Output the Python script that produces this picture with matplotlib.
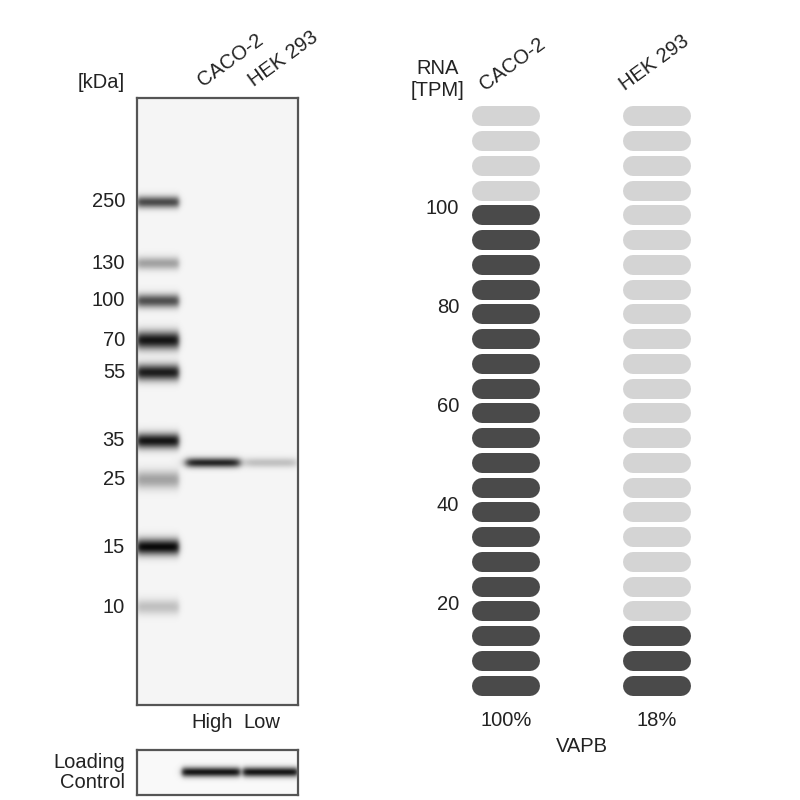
import numpy as np
import matplotlib
matplotlib.use("Agg")
import matplotlib.pyplot as plt

plt.rcParams["font.family"] = ["Liberation Sans", "DejaVu Sans"]

# western blot data (relative mobility down the membrane, 0 = top, 1 = bottom)
marker_kda = ["250", "130", "100", "70", "55", "35", "25", "15", "10"]
marker_mobility = [0.171, 0.272, 0.334, 0.399, 0.452, 0.565, 0.629, 0.740, 0.839]
marker_darkness = [0.72, 0.35, 0.70, 0.95, 0.92, 0.95, 0.35, 1.0, 0.22]
marker_spread = [0.0070, 0.0075, 0.0080, 0.0105, 0.0095, 0.0090, 0.0105, 0.0095, 0.0090]

lanes = ["CACO-2", "HEK 293"]
lane_levels = ["High", "Low"]
target_mobility = 0.601
target_darkness = [0.88, 0.22]
loading_darkness = [0.95, 0.95]

# RNA data
rna_tpm = [101.0, 18.0]
gene = "VAPB"
rna_ticks = [20, 40, 60, 80, 100]
n_pills = 24
tpm_per_pill = 5

W, H = 800, 800
fig = plt.figure(figsize=(8, 8), dpi=100)
txt = "#222222"
FS = 14.5


def rect(x0, y0, x1, y1):
    return [x0 / W, 1 - y1 / H, (x1 - x0) / W, (y1 - y0) / H]


def ftext(x, y, s, **kw):
    kw.setdefault("color", txt)
    kw.setdefault("fontsize", FS)
    fig.text(x / W, 1 - y / H, s, **kw)


def lane_mask(xs, a, b, edge=1.5):
    return 1 / (1 + np.exp(-(xs - a) / edge)) * 1 / (1 + np.exp((xs - b) / edge))


# ---- main blot ----
bx0, by0, bx1, by1 = 137, 98, 298, 705
ax = fig.add_axes(rect(bx0, by0, bx1, by1))
xs = np.arange(bx0, bx1) + 0.5
rows = np.linspace(0, 1, by1 - by0)
R, X = np.meshgrid(rows, xs, indexing="ij")
dens = np.zeros_like(R)
m_lane = lane_mask(X, bx0, 179)
for m, d, s in zip(marker_mobility, marker_darkness, marker_spread):
    dens += d * np.exp(-0.5 * ((R - m) / s) ** 2) * m_lane
sample_x = [(186, 240), (246, 297)]
for (a, b), d in zip(sample_x, target_darkness):
    dens += d * np.exp(-0.5 * ((R - target_mobility) / 0.0058) ** 2) * lane_mask(X, a, b, 2.5)
img = 0.96 - 0.92 * np.clip(dens, 0, 1)
ax.imshow(img, cmap="gray", vmin=0, vmax=1, extent=(bx0, bx1, by1, by0),
          aspect="auto", interpolation="bilinear")
ax.set_xlim(bx0, bx1)
ax.set_ylim(by1, by0)
ax.set_xticks([])
ax.set_yticks([])
for sp in ax.spines.values():
    sp.set_color("#555555")
    sp.set_linewidth(1.6)

ftext(125, 82, "[kDa]", ha="right", va="center")
for k, m in zip(marker_kda, marker_mobility):
    ftext(125, by0 + m * (by1 - by0), k, ha="right", va="center")
for name, x in zip(lanes, [205, 256]):
    ftext(x, 90, name, rotation=36, rotation_mode="anchor", ha="left", va="bottom")
for lev, x in zip(lane_levels, [212, 262]):
    ftext(x, 722, lev, ha="center", va="center")

# ---- loading control ----
lx0, ly0, lx1, ly1 = 137, 750, 298, 795
axl = fig.add_axes(rect(lx0, ly0, lx1, ly1))
rows = np.linspace(0, 1, ly1 - ly0)
R, X = np.meshgrid(rows, xs, indexing="ij")
dens = np.zeros_like(R)
for (a, b), d in zip([(182, 240), (243, 298)], loading_darkness):
    dens += d * np.exp(-0.5 * ((R - 0.49) / 0.08) ** 2) * lane_mask(X, a, b, 1.5)
img = 0.975 - 0.93 * np.clip(dens, 0, 1)
axl.imshow(img, cmap="gray", vmin=0, vmax=1, extent=(lx0, lx1, ly1, ly0),
           aspect="auto", interpolation="bilinear")
axl.set_xlim(lx0, lx1)
axl.set_ylim(ly1, ly0)
axl.set_xticks([])
axl.set_yticks([])
for sp in axl.spines.values():
    sp.set_color("#555555")
    sp.set_linewidth(1.6)
ftext(125, 762, "Loading", ha="right", va="center")
ftext(125, 782, "Control", ha="right", va="center")

# ---- RNA pills ----
ry0, ry1 = 104, 698
axr = fig.add_axes(rect(400, ry0, 720, ry1))
axr.set_xlim(400, 720)
axr.set_ylim(0, n_pills * tpm_per_pill)
axr.axis("off")
pill_h = 20 * 72 / 100
centers = [506, 657]
for cx, v in zip(centers, rna_tpm):
    n_dark = int(v / tpm_per_pill)
    for i in range(n_pills):
        yc = (i + 0.5) * tpm_per_pill
        col = "#4a4a4a" if i < n_dark else "#d4d4d4"
        axr.plot([cx - 24, cx + 24], [yc, yc], color=col, lw=pill_h,
                 solid_capstyle="round")
for t in rna_ticks:
    axr.text(459, t - 1.1, str(t), ha="right", va="center", fontsize=FS, color=txt)

ftext(438, 68, "RNA", ha="center", va="center")
ftext(438, 91, "[TPM]", ha="center", va="center")
for name, x in zip(lanes, [487, 627]):
    ftext(x, 94, name, rotation=36, rotation_mode="anchor", ha="left", va="bottom")
top = max(rna_tpm)
for cx, v in zip(centers, rna_tpm):
    ftext(cx, 720, f"{round(v / top * 100)}%", ha="center", va="center")
ftext(582, 747, gene, ha="center", va="center")

fig.savefig("out.png", dpi=100, facecolor="white")
